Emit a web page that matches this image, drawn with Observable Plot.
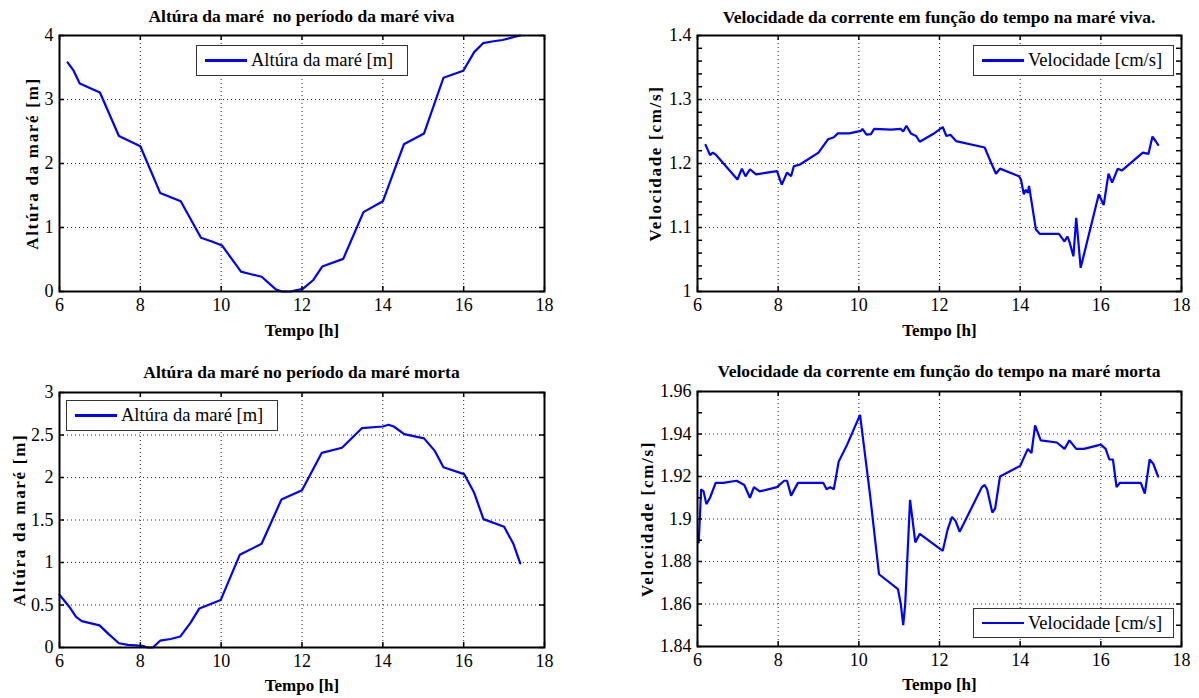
<!DOCTYPE html>
<html>
<head>
<meta charset="utf-8">
<script src="https://cdn.jsdelivr.net/npm/d3@7"></script>
<script src="https://cdn.jsdelivr.net/npm/@observablehq/plot@0.6"></script>
<style>
  html, body { margin: 0; padding: 0; background: #fff; }
  #root { position: relative; width: 1199px; height: 698px; overflow: hidden; background: #fff; font-family: "Liberation Serif", "Times New Roman", serif; }
  .panel { position: absolute; }
  .panel svg text { font-family: "Liberation Serif", "Times New Roman", serif; }
  .title { position: absolute; text-align: center; font-weight: bold; font-size: 17.5px; line-height: 20px; white-space: pre; color: #000; }
  .legend { position: absolute; box-sizing: border-box; border: 1px solid #333; background: #fff; display: flex; align-items: center; font-size: 18.5px; color: #000; white-space: pre; }
  .legend .sw { width: 42px; height: 2.5px; background: #0000ff; margin-left: 8px; margin-right: 4px; flex: none; }
  g[aria-label="x-axis label"] text, g[aria-label="y-axis label"] text { font-weight: bold; font-size: 17px; }
  g[aria-label="y-axis label"] text { letter-spacing: 1.7px; }
</style>
</head>
<body>
<div id="root"></div>
<script>
// ---------- data ----------
const xTicks = [6, 8, 10, 12, 14, 16, 18];

// Altura da maré – maré viva
const tempoAlturaViva = [6.2, 6.35, 6.5, 7.0, 7.47, 8.0, 8.49, 9.0, 9.5, 9.77, 10.02, 10.49, 10.74, 11.0, 11.36, 11.5, 11.71, 12.02, 12.28, 12.5, 13.02, 13.52, 14.0, 14.52, 15.02, 15.5, 15.99, 16.26, 16.48, 16.74, 16.96, 17.27, 17.4];
const alturaViva = [3.58, 3.45, 3.25, 3.11, 2.43, 2.27, 1.54, 1.41, 0.84, 0.78, 0.72, 0.31, 0.27, 0.23, 0.03, 0.0, 0.0, 0.04, 0.18, 0.39, 0.51, 1.24, 1.41, 2.30, 2.47, 3.34, 3.45, 3.74, 3.88, 3.91, 3.93, 3.98, 4.0];
const yTicksAlturaViva = [0, 1, 2, 3, 4];

// Velocidade – maré viva
const tempoVelViva = [6.2, 6.25, 6.31, 6.38, 6.45, 6.99, 7.1, 7.19, 7.3, 7.45, 7.97, 8.09, 8.22, 8.32, 8.39, 8.53, 9.0, 9.24, 9.38, 9.48, 9.76, 10.05, 10.09, 10.19, 10.3, 10.38, 10.8, 11.04, 11.1, 11.18, 11.29, 11.42, 11.51, 11.84, 12.08, 12.17, 12.27, 12.41, 13.12, 13.26, 13.4, 13.5, 13.97, 14.02, 14.09, 14.14, 14.19, 14.22, 14.39, 14.49, 14.96, 15.1, 15.17, 15.22, 15.32, 15.39, 15.5, 15.95, 16.07, 16.19, 16.28, 16.42, 16.52, 17.04, 17.18, 17.28, 17.37, 17.42];
const velocidadeViva = [1.229, 1.222, 1.213, 1.217, 1.214, 1.175, 1.192, 1.180, 1.191, 1.183, 1.188, 1.167, 1.186, 1.180, 1.196, 1.198, 1.217, 1.238, 1.241, 1.247, 1.247, 1.251, 1.254, 1.245, 1.246, 1.254, 1.253, 1.254, 1.250, 1.259, 1.247, 1.243, 1.234, 1.246, 1.257, 1.243, 1.245, 1.235, 1.225, 1.204, 1.184, 1.192, 1.180, 1.175, 1.152, 1.159, 1.154, 1.165, 1.097, 1.090, 1.090, 1.078, 1.086, 1.078, 1.055, 1.115, 1.037, 1.152, 1.135, 1.184, 1.170, 1.192, 1.189, 1.217, 1.215, 1.242, 1.234, 1.229];
const yTicksVelViva = [1.0, 1.1, 1.2, 1.3, 1.4];

// Altura da maré – maré morta
const tempoAlturaMorta = [6.0, 6.24, 6.41, 6.55, 6.99, 7.21, 7.47, 7.69, 8.05, 8.18, 8.31, 8.49, 8.75, 8.99, 9.24, 9.46, 9.99, 10.46, 11.0, 11.49, 12.0, 12.49, 12.99, 13.48, 14.0, 14.14, 14.27, 14.53, 15.02, 15.29, 15.5, 16.01, 16.26, 16.49, 17.0, 17.23, 17.4];
const alturaMorta = [0.62, 0.48, 0.36, 0.31, 0.26, 0.16, 0.05, 0.03, 0.02, 0.0, 0.0, 0.08, 0.10, 0.13, 0.29, 0.46, 0.56, 1.09, 1.22, 1.74, 1.85, 2.29, 2.35, 2.58, 2.60, 2.62, 2.60, 2.51, 2.46, 2.31, 2.12, 2.04, 1.82, 1.51, 1.42, 1.22, 0.99];
const yTicksAlturaMorta = [0, 0.5, 1, 1.5, 2, 2.5, 3];

// Velocidade – maré morta
const tempoVelMorta = [6.03, 6.09, 6.15, 6.22, 6.31, 6.45, 6.64, 6.97, 7.16, 7.30, 7.40, 7.54, 7.97, 8.15, 8.22, 8.32, 8.49, 9.12, 9.2, 9.29, 9.38, 9.5, 9.71, 10.03, 10.28, 10.5, 10.97, 11.04, 11.1, 11.15, 11.27, 11.4, 11.51, 12.08, 12.2, 12.31, 12.4, 12.5, 13.05, 13.12, 13.18, 13.31, 13.38, 13.5, 14.0, 14.19, 14.28, 14.37, 14.51, 14.91, 15.1, 15.22, 15.39, 15.58, 16.0, 16.12, 16.21, 16.3, 16.39, 16.47, 16.99, 17.09, 17.21, 17.3, 17.42];
const velocidadeMorta = [1.889, 1.914, 1.913, 1.907, 1.910, 1.917, 1.917, 1.918, 1.916, 1.910, 1.915, 1.913, 1.915, 1.918, 1.918, 1.911, 1.917, 1.917, 1.914, 1.915, 1.914, 1.927, 1.935, 1.949, 1.911, 1.874, 1.867, 1.860, 1.850, 1.860, 1.909, 1.889, 1.893, 1.885, 1.895, 1.901, 1.899, 1.894, 1.915, 1.916, 1.914, 1.903, 1.905, 1.920, 1.925, 1.933, 1.931, 1.944, 1.937, 1.936, 1.933, 1.937, 1.933, 1.933, 1.935, 1.933, 1.928, 1.928, 1.915, 1.917, 1.917, 1.912, 1.928, 1.926, 1.920];
const yTicksVelMorta = [1.84, 1.86, 1.88, 1.90, 1.92, 1.94, 1.96];

const titles = [
  "Altúra da maré  no período da maré viva",
  "Velocidade da corrente em função do tempo na maré viva.",
  "Altúra da maré no período da maré morta",
  "Velocidade da corrente em função do tempo na maré morta"
];
const xLabel = "Tempo [h]";
const yLabelAltura = "Altúra da maré [m]";
const yLabelVel = "Velocidade [cm/s]";
const legendAltura = "Altúra da maré [m]";
const legendVel = "Velocidade [cm/s]";

// ---------- drawing ----------
const root = document.getElementById("root");
const fmt = d3.format("~g");

function panel(cfg) {
  const data = cfg.t.map((t, i) => ({t, v: cfg.v[i]}));
  const innerW = cfg.width - cfg.ml - cfg.mr;
  const innerH = cfg.height - cfg.mt - cfg.mb;
  const tickLen = 5;
  const yTickAll = cfg.yMinor ? cfg.yMinor : cfg.yTicks;
  const grid = {stroke: "#000", strokeOpacity: 0.85, strokeWidth: 1, strokeDasharray: "1,3"};
  const tk = {stroke: "#000", strokeWidth: 1.5};
  const svg = Plot.plot({
    width: cfg.width,
    height: cfg.height,
    marginLeft: cfg.ml, marginRight: cfg.mr, marginTop: cfg.mt, marginBottom: cfg.mb,
    style: {fontFamily: "'Liberation Serif', 'Times New Roman', serif", fontSize: "18px", color: "#000", background: "transparent", overflow: "visible"},
    x: {domain: [6, 18]},
    y: {domain: cfg.yDomain},
    marks: [
      Plot.gridX(xTicks, grid),
      Plot.gridY(cfg.yTicks, grid),
      Plot.line(data, {x: "t", y: "v", stroke: "#0000ff", strokeWidth: 2.2, strokeLinejoin: "miter"}),
      Plot.tickX(xTicks, {x: d => d, insetTop: innerH - tickLen, ...tk}),
      Plot.tickX(xTicks, {x: d => d, insetBottom: innerH - tickLen, ...tk}),
      Plot.tickY(yTickAll, {y: d => d, insetRight: innerW - tickLen, ...tk}),
      Plot.tickY(yTickAll, {y: d => d, insetLeft: innerW - tickLen, ...tk}),
      Plot.frame({stroke: "#000", strokeWidth: 2}),
      Plot.axisX(xTicks, {tickSize: 0, tickPadding: 7, label: xLabel, labelAnchor: "center", labelArrow: "none", labelOffset: cfg.xlo}),
      Plot.axisY(cfg.yTicks, {tickSize: 0, tickPadding: 6, tickFormat: fmt, label: cfg.yLabel, labelAnchor: "center", labelArrow: "none", labelOffset: cfg.ylo})
    ]
  });
  const wrap = document.createElement("div");
  wrap.className = "panel";
  wrap.style.left = cfg.left + "px";
  wrap.style.top = cfg.top + "px";
  wrap.appendChild(svg);
  root.appendChild(wrap);

  const title = document.createElement("div");
  title.className = "title";
  title.textContent = cfg.title;
  title.style.left = (cfg.left + cfg.ml - 60) + "px";
  title.style.width = (innerW + 120) + "px";
  title.style.top = cfg.titleTop + "px";
  root.appendChild(title);

  const lg = document.createElement("div");
  lg.className = "legend";
  lg.style.left = cfg.lg[0] + "px";
  lg.style.top = cfg.lg[1] + "px";
  lg.style.width = cfg.lg[2] + "px";
  lg.style.height = cfg.lg[3] + "px";
  const sw = document.createElement("span");
  sw.className = "sw";
  const tx = document.createElement("span");
  tx.textContent = cfg.legend;
  lg.appendChild(sw);
  lg.appendChild(tx);
  root.appendChild(lg);
}

panel({left: 0, top: 25, width: 560, height: 320, ml: 59, mr: 16, mt: 10, mb: 54,
  t: tempoAlturaViva, v: alturaViva, yDomain: [0, 4], yTicks: yTicksAlturaViva,
  yLabel: yLabelAltura, ylo: 34, xlo: 44, title: titles[0], titleTop: 6,
  legend: legendAltura, lg: [196, 45, 212, 31]});

panel({left: 600, top: 25, width: 599, height: 320, ml: 97, mr: 18, mt: 10, mb: 54,
  t: tempoVelViva, v: velocidadeViva, yDomain: [1.0, 1.4], yTicks: yTicksVelViva,
  yMinor: d3.ticks(1.0, 1.4, 20),
  yLabel: yLabelVel, ylo: 49, xlo: 44, title: titles[1], titleTop: 7,
  legend: legendVel, lg: [973, 45, 201, 31]});

panel({left: 0, top: 382, width: 560, height: 316, ml: 59, mr: 16, mt: 10, mb: 51,
  t: tempoAlturaMorta, v: alturaMorta, yDomain: [0, 3], yTicks: yTicksAlturaMorta,
  yLabel: yLabelAltura, ylo: 47, xlo: 43, title: titles[2], titleTop: 362,
  legend: legendAltura, lg: [66, 400, 212, 31]});

panel({left: 600, top: 381, width: 599, height: 317, ml: 97, mr: 18, mt: 10, mb: 52,
  t: tempoVelMorta, v: velocidadeMorta, yDomain: [1.84, 1.96], yTicks: yTicksVelMorta,
  yMinor: d3.ticks(1.84, 1.96, 12),
  yLabel: yLabelVel, ylo: 57, xlo: 43, title: titles[3], titleTop: 361,
  legend: legendVel, lg: [973, 608, 201, 30]});
</script>
</body>
</html>
